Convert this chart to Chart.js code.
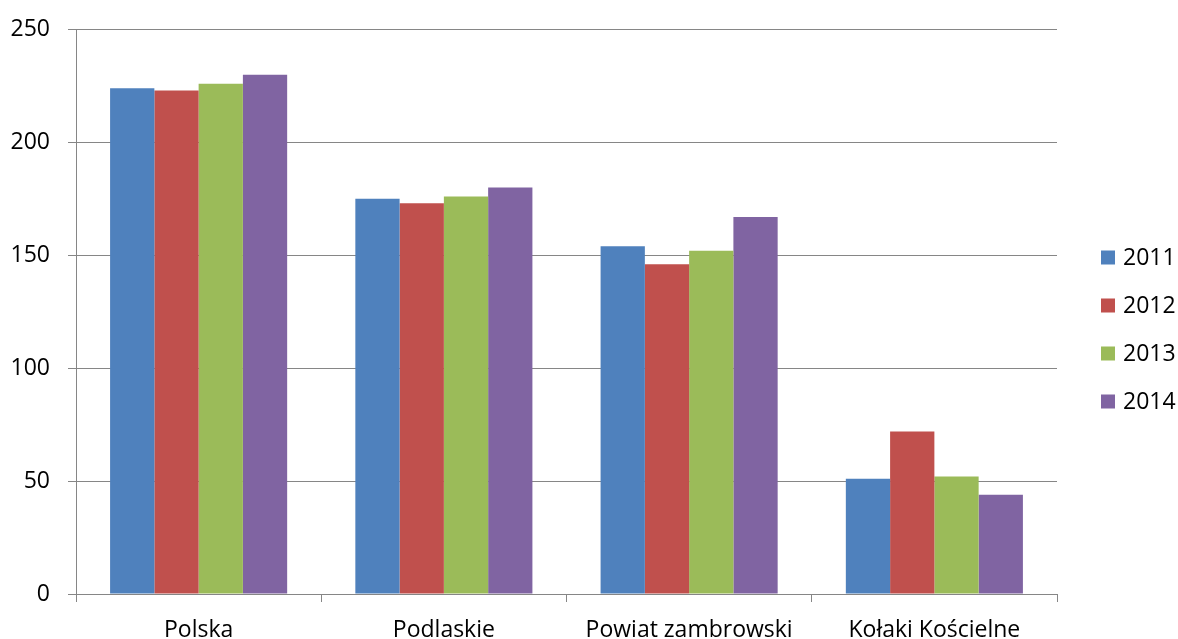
<!DOCTYPE html>
<html>
<head>
<meta charset="utf-8">
<script src="https://cdn.jsdelivr.net/npm/chart.js@4.4.1/dist/chart.umd.min.js"></script>
<style>
  html, body { margin: 0; padding: 0; background: #fff; }
  .wrap { width: 1178px; height: 639px; position: relative; }
</style>
</head>
<body>
<div class="wrap"><canvas id="chart"></canvas></div>
<script>
const categories = ["Polska", "Podlaskie", "Powiat zambrowski", "Kołaki Kościelne"];
const years = ["2011", "2012", "2013", "2014"];
const values2011 = [224, 175, 154, 51];
const values2012 = [223, 173, 146, 72];
const values2013 = [226, 176, 152, 52];
const values2014 = [230, 180, 167, 44];
const yTicks = [0, 50, 100, 150, 200, 250];

const colors = ["#4F81BD", "#C0504D", "#9BBB59", "#8064A2"];
const gridColor = "#868686";
const fontFamily = "'Open Sans', 'Liberation Sans', sans-serif";

Chart.defaults.font.family = fontFamily;
Chart.defaults.font.size = 23;
Chart.defaults.color = "#000";

function barDataset(label, data, c) {
  return {
    label,
    data,
    backgroundColor: c,
    borderWidth: 0,
    barPercentage: 1,
    categoryPercentage: 0.722,
  };
}

// legenda po prawej: kwadrat + rok, rysowana recznie z datasetow
const sideLegend = {
  id: "sideLegend",
  afterDraw(chart) {
    const ctx = chart.ctx;
    const x = chart.chartArea.right + 44;
    let y = chart.height / 2 - 62;
    ctx.save();
    ctx.font = "23px " + fontFamily;
    ctx.textBaseline = "middle";
    chart.data.datasets.forEach((ds) => {
      ctx.fillStyle = ds.backgroundColor;
      ctx.fillRect(x, y - 7, 14, 14);
      ctx.fillStyle = "#000";
      ctx.fillText(ds.label, x + 22, y + 1);
      y += 48;
    });
    ctx.restore();
  },
};

new Chart(document.getElementById("chart"), {
  type: "bar",
  data: {
    labels: categories,
    datasets: [
      barDataset(years[0], values2011, colors[0]),
      barDataset(years[1], values2012, colors[1]),
      barDataset(years[2], values2013, colors[2]),
      barDataset(years[3], values2014, colors[3]),
    ],
  },
  options: {
    responsive: true,
    maintainAspectRatio: false,
    animation: false,
    layout: { padding: { top: 4, left: 10, right: 121, bottom: 0 } },
    plugins: {
      legend: { display: false },
      tooltip: { enabled: false },
    },
    scales: {
      x: {
        grid: {
          display: true,
          drawOnChartArea: false,
          offset: true,
          tickLength: 8,
          color: gridColor,
        },
        border: { color: gridColor },
        ticks: { padding: 15 },
        afterFit: (axis) => { axis.height = 45; },
      },
      y: {
        min: 0,
        max: 250,
        afterBuildTicks: (axis) => { axis.ticks = yTicks.map((v) => ({ value: v })); },
        grid: { color: gridColor, tickLength: 8 },
        border: { color: gridColor },
        ticks: { padding: 18, font: { size: 23, lineHeight: 1 } },
        afterFit: (axis) => { axis.width = 66; },
      },
    },
  },
  plugins: [sideLegend],
});
</script>
</body>
</html>
